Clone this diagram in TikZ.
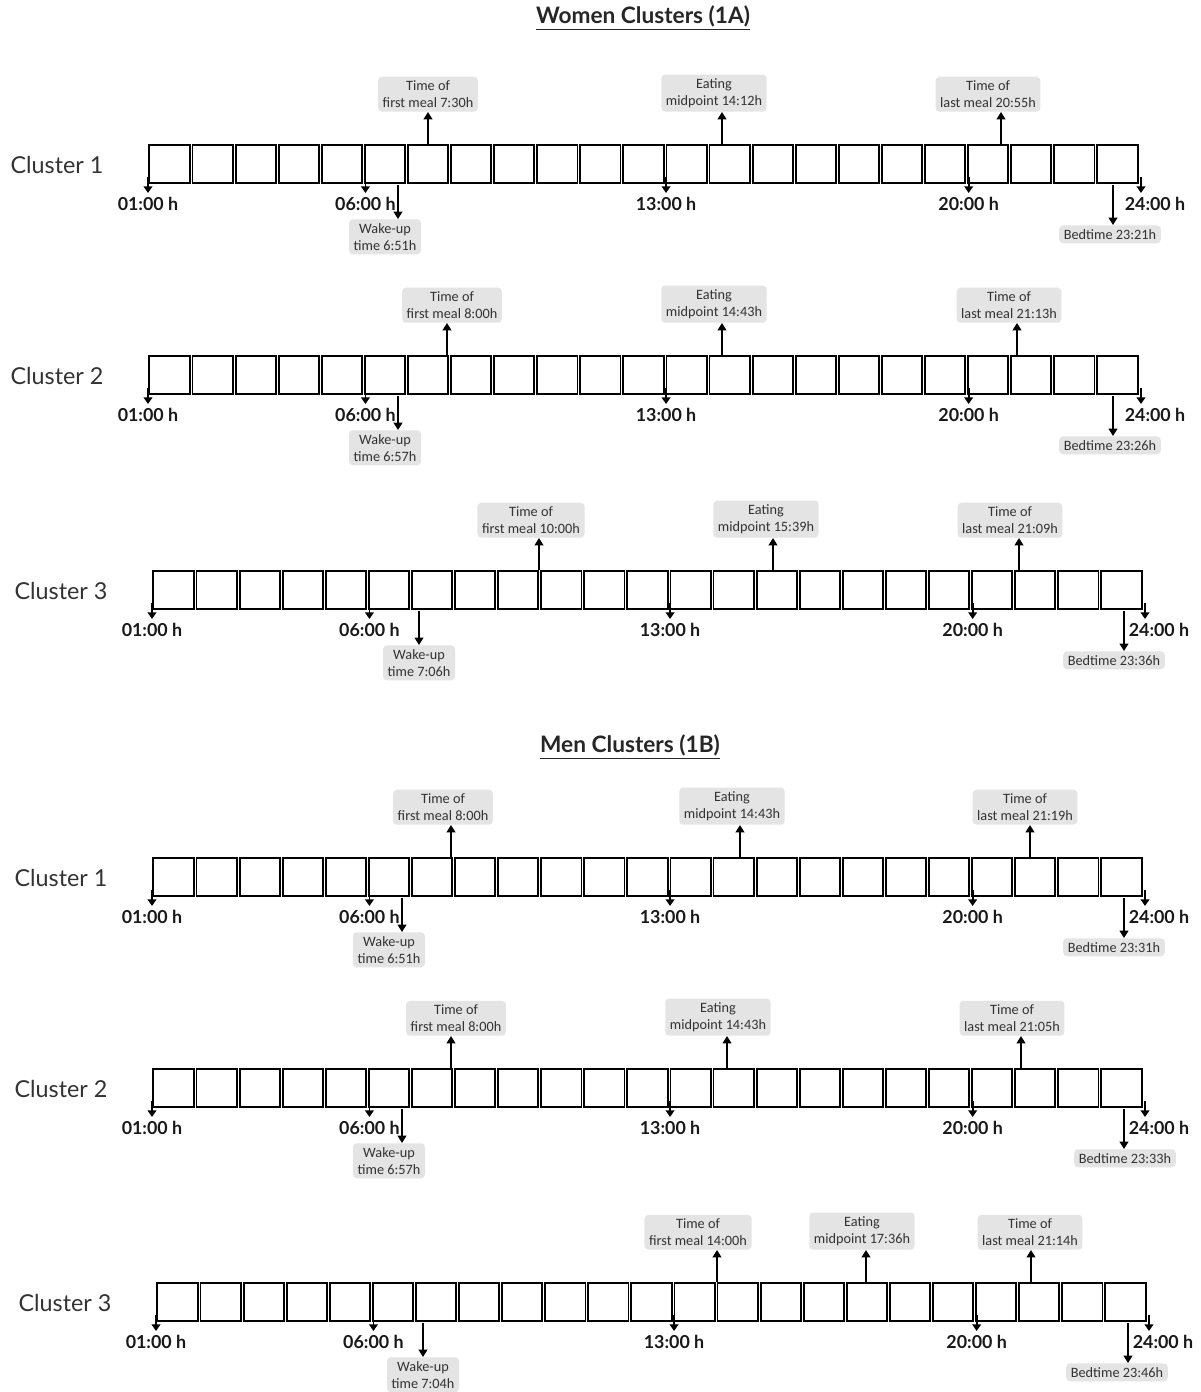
\documentclass[tikz,border=0pt]{standalone}
\usepackage{fontspec}
\setmainfont{Lato}
\newfontfamily\labfont{Carlito}
\usetikzlibrary{arrows.meta}
\definecolor{txt}{HTML}{333333}
\definecolor{labbg}{HTML}{E4E4E4}
\tikzset{
  cell/.style={draw=black, line width=1.4pt, minimum width=30.2pt, minimum height=28.6pt, inner sep=0pt},
  clus/.style={text=txt, font=\fontsize{17.5}{20}\selectfont},
  hour/.style={text=black!90, font=\fontsize{13.4}{15}\selectfont\bfseries},
  lab/.style={fill=labbg, rounded corners=3pt, text=txt, align=center, inner xsep=3.5pt, inner ysep=3pt,
              font=\labfont\fontsize{10.7}{12.8}\selectfont},
  evarr/.style={line width=1.3pt, -{Triangle[length=5.5pt,width=6.5pt]}},
  tick/.style={line width=1.3pt, -{Triangle[length=5pt,width=6.5pt]}},
  ttl/.style={text=black!85, font=\fontsize{17}{19}\selectfont\bfseries}
}
\newcommand\tlrow[4]{%
  \pgfmathsetmacro\pp{991/23}
  \foreach \i in {0,...,22}{
    \node[cell] (#1c\i) at ({#2+(\i+0.5)*\pp},{#3+20}) {};
  }
  \node[clus] (#1name) at ({#2-91},{#3+21}) {Cluster #4};
  \foreach \h/\k/\dx/\lx in {01/0/0/0,06/5/2/2,13/12/1/1,20/19/2/2,24/23/2/16}{
    \coordinate (#1h\h) at ({#2+\k*\pp+\dx},{#3+33});
    \coordinate (#1e\h) at ({#2+\k*\pp+\dx},{#3+49});
    \draw[tick] (#1h\h) -- (#1e\h);
    \node[hour] (#1l\h) at ({#2+\k*\pp+\lx},{#3+60}) {\h:00 h};
  }
}
\newcommand\evup[5]{%
  \coordinate (#1s) at (#2,#3);
  \node[lab,anchor=south] (#1) at (#4,{#3-32}) {#5};
  \draw[evarr] (#1s) -- (#1s |- #1.south);
}
\newcommand\evdown[6]{%
  \coordinate (#1s) at (#2,{#3+1});
  \node[lab,anchor=north] (#1) at (#4,{#3+#5}) {#6};
  \draw[evarr] (#1s) -- (#1s |- #1.north);
}
\begin{document}
\begin{tikzpicture}[x=0.75pt,y=-0.75pt]
\useasboundingbox (0,0) rectangle (1200,1392);
\fill[white] (0,0) rectangle (1200,1392);

\node[ttl] (titleA) at (643,18) {\underline{Women Clusters (1A)}};
\node[ttl] (titleB) at (630,747) {\underline{Men Clusters (1B)}};

% Women cluster 1
\tlrow{a}{148}{144}{1}
\evup{a1}{428}{144}{428}{Time of\\first meal 7:30h}
\evup{a2}{722}{144}{714}{Eating\\midpoint 14:12h}
\evup{a3}{1001}{144}{988}{Time of\\last meal 20:55h}
\evdown{a4}{398}{184}{385}{35}{Wake-up\\time 6:51h}
\evdown{a5}{1113}{184}{1110}{41}{Bedtime 23:21h}

% Women cluster 2
\tlrow{b}{148}{355}{2}
\evup{b1}{447}{355}{452}{Time of\\first meal 8:00h}
\evup{b2}{722}{355}{714}{Eating\\midpoint 14:43h}
\evup{b3}{1017}{355}{1009}{Time of\\last meal 21:13h}
\evdown{b4}{398}{395}{385}{35}{Wake-up\\time 6:57h}
\evdown{b5}{1113}{395}{1110}{41}{Bedtime 23:26h}

% Women cluster 3
\tlrow{c}{152}{570}{3}
\evup{c1}{539}{570}{531}{Time of\\first meal 10:00h}
\evup{c2}{773}{570}{766}{Eating\\midpoint 15:39h}
\evup{c3}{1019}{570}{1010}{Time of\\last meal 21:09h}
\evdown{c4}{419}{610}{419}{35}{Wake-up\\time 7:06h}
\evdown{c5}{1124}{610}{1114}{41}{Bedtime 23:36h}

% Men cluster 1
\tlrow{d}{152}{857}{1}
\evup{d1}{451}{857}{443}{Time of\\first meal 8:00h}
\evup{d2}{740}{857}{732}{Eating\\midpoint 14:43h}
\evup{d3}{1030}{857}{1025}{Time of\\last meal 21:19h}
\evdown{d4}{402}{897}{389}{35}{Wake-up\\time 6:51h}
\evdown{d5}{1124}{897}{1114}{41}{Bedtime 23:31h}

% Men cluster 2
\tlrow{e}{152}{1068}{2}
\evup{e1}{451}{1068}{456}{Time of\\first meal 8:00h}
\evup{e2}{727}{1068}{718}{Eating\\midpoint 14:43h}
\evup{e3}{1021}{1068}{1012}{Time of\\last meal 21:05h}
\evdown{e4}{402}{1108}{389}{35}{Wake-up\\time 6:57h}
\evdown{e5}{1124}{1108}{1125}{41}{Bedtime 23:33h}

% Men cluster 3
\tlrow{f}{156}{1282}{3}
\evup{f1}{717}{1282}{698}{Time of\\first meal 14:00h}
\evup{f2}{866}{1282}{862}{Eating\\midpoint 17:36h}
\evup{f3}{1031}{1282}{1030}{Time of\\last meal 21:14h}
\evdown{f4}{423}{1322}{423}{35}{Wake-up\\time 7:04h}
\evdown{f5}{1128}{1322}{1117}{41}{Bedtime 23:46h}
\end{tikzpicture}
\end{document}
